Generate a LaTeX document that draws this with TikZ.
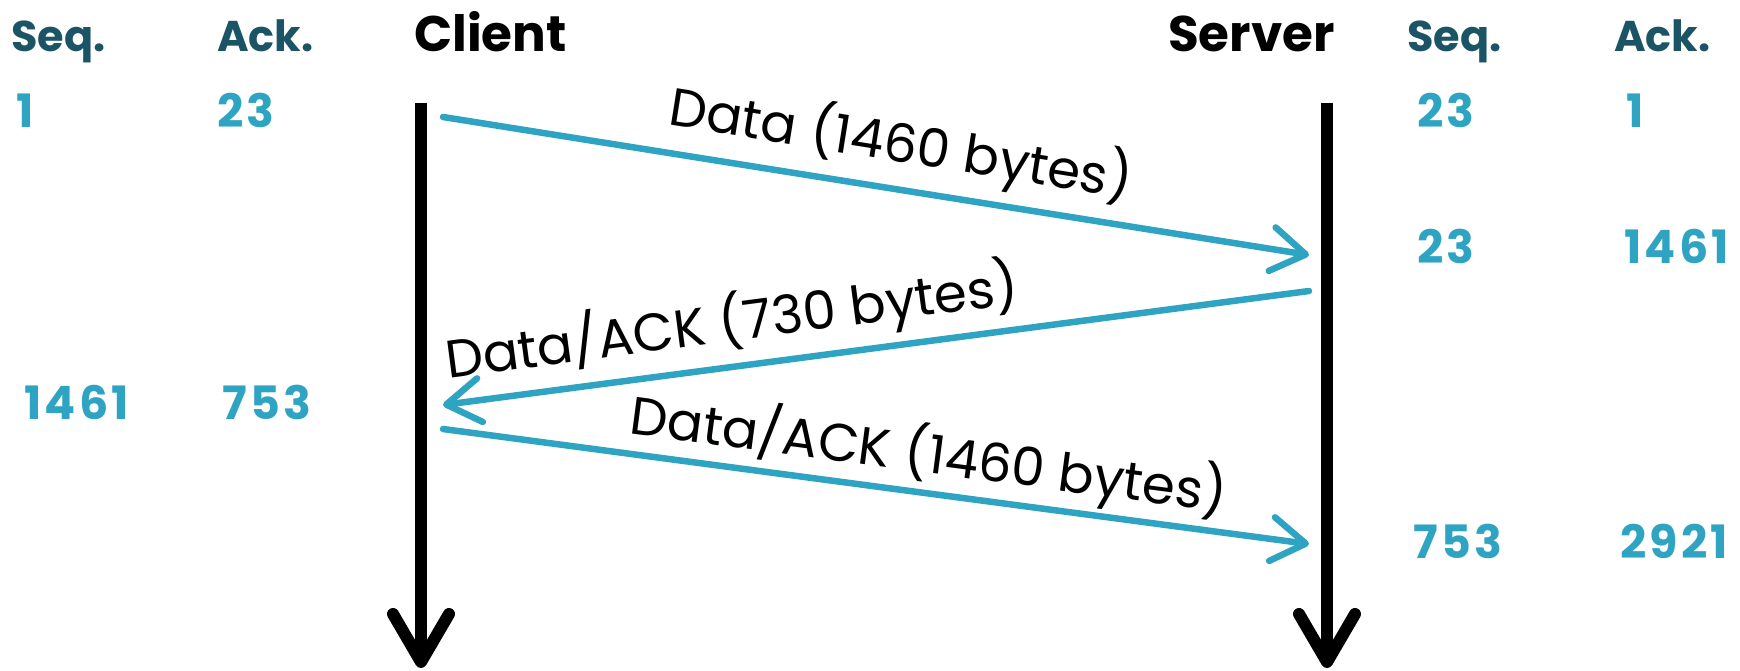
\documentclass[tikz,border=0pt]{standalone}
\usepackage{fontspec}
\setmainfont{Poppins}
\usetikzlibrary{arrows.meta}
\definecolor{hdrcol}{HTML}{1B5465}
\definecolor{tealcol}{HTML}{2EA4C2}

\begin{document}
\begin{tikzpicture}[x=1pt,y=-1pt,
  colhead/.style={anchor=base west, inner sep=0, text=hdrcol, font=\fontsize{43}{50}\selectfont\bfseries},
  num/.style={anchor=base west, inner sep=0, text=tealcol, font=\fontsize{46}{54}\selectfont\bfseries\addfontfeature{LetterSpace=7}},
  party/.style={anchor=base west, inner sep=0, font=\fontsize{50}{58}\selectfont\bfseries},
  lifeline/.style={line width=12pt, -{Straight Barb[length=48pt,width=56pt,round]}},
  msg/.style={draw=tealcol, line width=6.5pt, line cap=round, -{Straight Barb[length=34pt,width=44pt,round]}},
  msglabel/.style={font=\fontsize{53}{60}\selectfont, inner sep=0}
]
\useasboundingbox (0,0) rectangle (1740,671);

% column headings
\node[colhead] (seqL) at (11,52) {Seq.};
\node[colhead] (ackL) at (217,52) {Ack.};
\node[party]   (client) at (414,52) {Client};
\node[party]   (server) at (1168,52) {Server};
\node[colhead] (seqR) at (1407,52) {Seq.};
\node[colhead] (ackR) at (1614,52) {Ack.};

% sequence / acknowledgement numbers
\node[num] (s1) at (16,128) {1};
\node[num] (a1) at (217,128) {23};
\node[num] (s2) at (1417,128) {23};
\node[num] (a2) at (1626,128) {1};
\node[num] (s3) at (1417,263) {23};
\node[num] (a3) at (1624,263) {1461};
\node[num] (s4) at (24,419) {1461};
\node[num] (a4) at (222,419) {753};
\node[num] (s5) at (1413,558) {753};
\node[num] (a5) at (1620,558) {2921};

% lifelines
\coordinate (ctop) at (421,103);
\coordinate (cbot) at (421,668);
\coordinate (stop) at (1327,103);
\coordinate (sbot) at (1327,668);
\draw[lifeline] (ctop) -- (cbot);
\draw[lifeline] (stop) -- (sbot);

% message end points
\coordinate (m1a) at (443,117);
\coordinate (m1b) at (1309,255);
\coordinate (m2a) at (1309,291);
\coordinate (m2b) at (443,405);
\coordinate (m3a) at (443,429);
\coordinate (m3b) at (1309,544);

\draw[msg] (m1a) -- (m1b);
\draw[msg] (m2a) -- (m2b);
\draw[msg] (m3a) -- (m3b);

% message labels
\node[msglabel, rotate=-9.05] (l1) at (901,144) {Data (1460 bytes)};
\node[msglabel, rotate=7.5]   (l2) at (732,323) {Data/ACK (730 bytes)};
\node[msglabel, rotate=-7.5]  (l3) at (929,455) {Data/ACK (1460 bytes)};
\end{tikzpicture}
\end{document}
